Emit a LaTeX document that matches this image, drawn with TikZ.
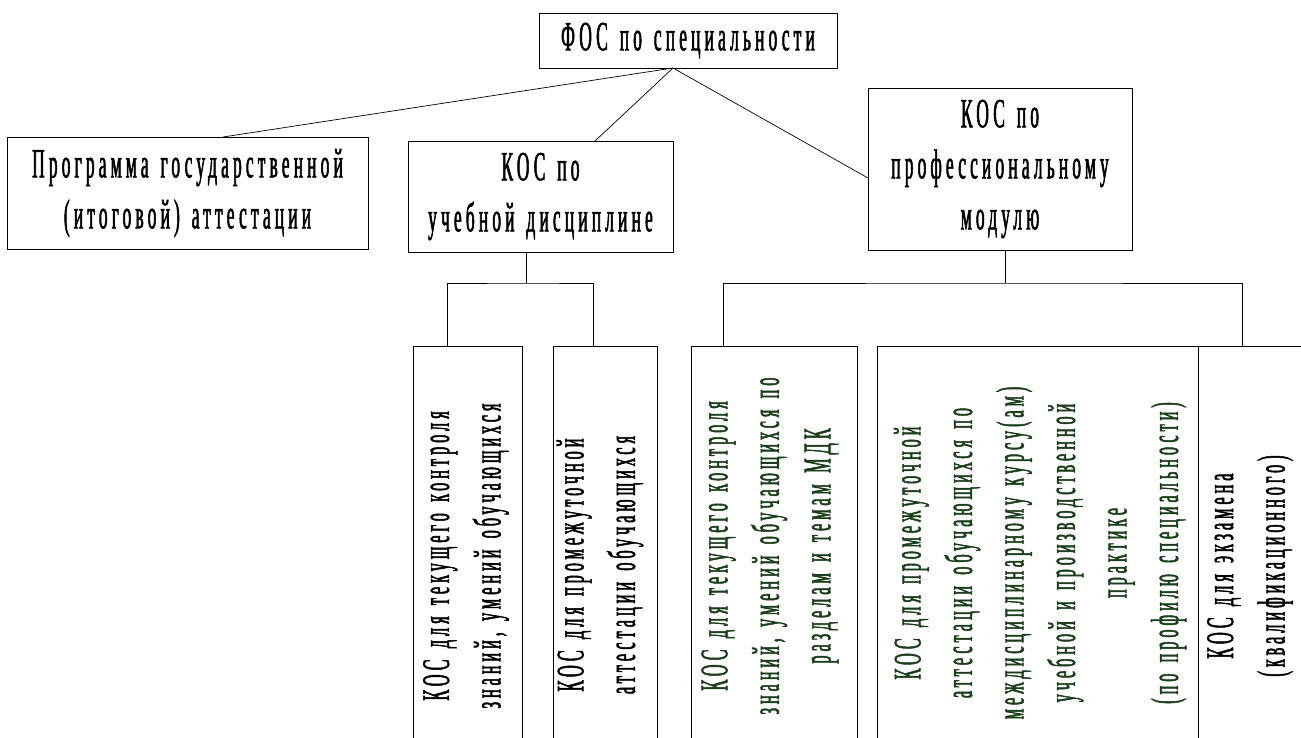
\documentclass[tikz,border=0pt]{standalone}
\usepackage{fontspec}
\newfontfamily\condf[FakeStretch=0.42,LetterSpace=10,FakeBold=1.3,WordSpace=1.4]{Liberation Serif}
\definecolor{tgreen}{RGB}{25,62,25}
\begin{document}
\begin{tikzpicture}[x=1pt,y=-1pt,
  box/.style={draw,line width=0.9pt,inner sep=0pt,align=center},
  upper/.style={box,font=\condf\fontsize{41.5}{51}\selectfont},
  lowbox/.style={box,minimum height=424},
  lowtext/.style={rotate=90,inner sep=0pt,align=center,font=\condf\fontsize{39}{51.5}\selectfont},
  conn/.style={line width=0.7pt}]
\useasboundingbox (0,0) rectangle (1301,737);
\clip (0,0) rectangle (1301,737);
\node[box,font=\condf\fontsize{41.5}{46}\selectfont,minimum width=298,minimum height=55] (fos) at (688,40.5) {ФОС по специальности};
\node[upper,minimum width=361,minimum height=112] (prog) at (187.5,193) {Программа государственной\\(итоговой) аттестации};
\node[upper,minimum width=265,minimum height=111] (ud) at (540.5,196.5) {КОС по\\учебной дисциплине};
\node[upper,minimum width=264,minimum height=162] (pm) at (1000,169) {КОС по\\профессиональному\\модулю};
\node[lowbox,minimum width=109] (b1) at (467.5,558) {};
\node[lowbox,minimum width=104] (b2) at (605,558) {};
\node[lowbox,minimum width=166] (b3) at (774,558) {};
\node[lowbox,minimum width=321] (b4) at (1037.5,558) {};
\node[lowbox,minimum width=104] (b5) at (1250,558) {};
\node[lowtext] (t1) at (466,556) {КОС для текущего контроля\\знаний, умений обучающихся};
\node[lowtext] (t2) at (600,565) {КОС для промежуточной\\аттестации обучающихся};
\node[lowtext,text=tgreen] (t3) at (770,546) {КОС для текущего контроля\\знаний, умений обучающихся по\\разделам и темам МДК};
\node[lowtext,text=tgreen] (t4) at (1040,553) {КОС для промежуточной\\аттестации обучающихся по\\междисциплинарному курсу(ам)\\учебной и производственной\\практике\\(по профилю специальности)};
\node[lowtext] (t5) at (1250,566) {КОС для экзамена\\(квалификационного)};
\coordinate (fo) at (673,68);
\coordinate (progT) at (223,137);
\coordinate (udT) at (595,141);
\coordinate (pmL) at (868,178);
\draw[conn] (fo) -- (progT);
\draw[conn] (fo) -- (udT);
\draw[conn] (fo) -- (pmL);
\coordinate (udB) at (526,252);
\coordinate (j1) at (526,283);
\coordinate (b1t) at (447,346);
\coordinate (b2t) at (593,346);
\draw[conn] (udB) -- (j1);
\draw[conn] (b1t) |- (j1) -| (b2t);
\coordinate (pmB) at (1005,250);
\coordinate (j2) at (1005,283);
\coordinate (b3t) at (723,346);
\coordinate (b5t) at (1242,346);
\draw[conn] (pmB) -- (j2);
\draw[conn] (b3t) |- (j2) -| (b5t);
\end{tikzpicture}
\end{document}
